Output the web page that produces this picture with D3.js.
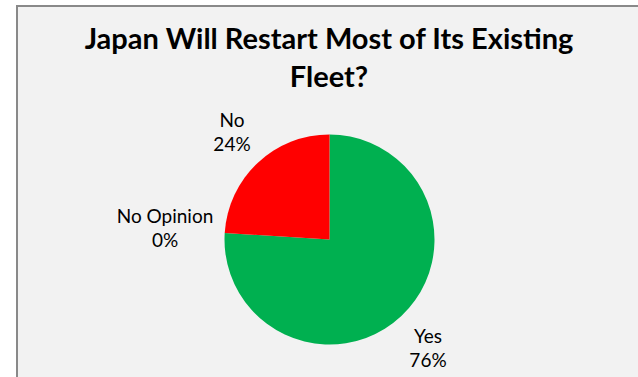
<!DOCTYPE html>
<html>
<head>
<meta charset="utf-8">
<script src="https://cdn.jsdelivr.net/npm/d3@7"></script>
<style>
  html, body { margin: 0; padding: 0; background: #ffffff; }
  svg { display: block; }
  text { font-family: Lato, "Open Sans", sans-serif; fill: #000; }
</style>
</head>
<body>
<svg id="chart" width="638" height="377"></svg>
<script>
// Survey answers, drawn clockwise from 12 o'clock
const categories = ["Yes", "No Opinion", "No"];
const shares = [76, 0, 24];
const colors = ["#00b050", "#7f7f7f", "#ff0000"];
const titleLines = ["Japan Will Restart Most of Its Existing", "Fleet?"];

const svg = d3.select("#chart");
const W = 638, H = 377;

// chart area with frame on top and left
svg.append("rect").attr("x", 17).attr("y", 6).attr("width", W - 17).attr("height", H - 6)
  .attr("fill", "#f2f2f2");
svg.append("path").attr("d", `M17,${H} L17,6 L${W},6`)
  .attr("fill", "none").attr("stroke", "#898989").attr("stroke-width", 2);

// title
const title = svg.append("text").attr("text-anchor", "middle")
  .attr("font-weight", "bold").attr("font-size", 29);
titleLines.forEach((t, i) => {
  title.append("tspan").attr("x", 329).attr("y", 49 + i * 38).text(t);
});

const cx = 329.5, cy = 239.5, r = 105;
const data = categories.map((c, i) => ({ name: c, value: shares[i], color: colors[i] }));
const pie = d3.pie().sort(null).value(d => d.value);
const arcs = pie(data);
const arc = d3.arc().innerRadius(0).outerRadius(r);

const g = svg.append("g").attr("transform", `translate(${cx},${cy})`);
g.selectAll("path").data(arcs.filter(a => a.data.value > 0)).join("path")
  .attr("d", arc).attr("fill", d => d.data.color);

// labels placed outside the pie
const labelPos = {
  "Yes": [428, 342.5],
  "No Opinion": [165, 222.5],
  "No": [232, 127]
};
const labels = svg.append("g").attr("font-size", 19).attr("text-anchor", "middle");
arcs.forEach(a => {
  const [x, y] = labelPos[a.data.name];
  const t = labels.append("text");
  t.append("tspan").attr("x", x).attr("y", y).text(a.data.name);
  t.append("tspan").attr("x", x).attr("y", y + 24).text(a.data.value + "%");
});
</script>
</body>
</html>
